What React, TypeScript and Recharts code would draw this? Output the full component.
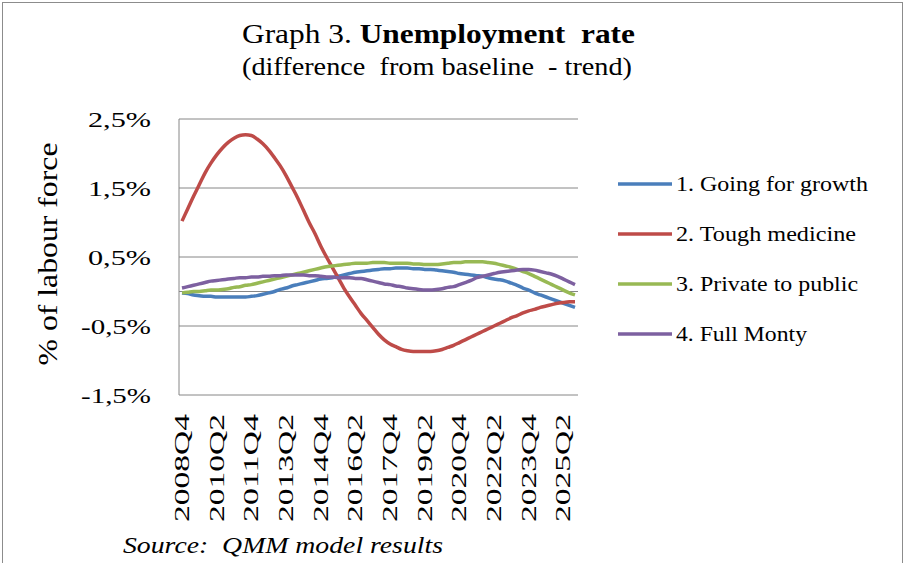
import React from 'react';
import { CartesianGrid, Legend, Line, LineChart, ReferenceLine, XAxis, YAxis } from 'recharts';

const quarters = [
  '2008Q4',
  '2009Q1', '2009Q2', '2009Q3', '2009Q4',
  '2010Q1', '2010Q2', '2010Q3', '2010Q4',
  '2011Q1', '2011Q2', '2011Q3', '2011Q4',
  '2012Q1', '2012Q2', '2012Q3', '2012Q4',
  '2013Q1', '2013Q2', '2013Q3', '2013Q4',
  '2014Q1', '2014Q2', '2014Q3', '2014Q4',
  '2015Q1', '2015Q2', '2015Q3', '2015Q4',
  '2016Q1', '2016Q2', '2016Q3', '2016Q4',
  '2017Q1', '2017Q2', '2017Q3', '2017Q4',
  '2018Q1', '2018Q2', '2018Q3', '2018Q4',
  '2019Q1', '2019Q2', '2019Q3', '2019Q4',
  '2020Q1', '2020Q2', '2020Q3', '2020Q4',
  '2021Q1', '2021Q2', '2021Q3', '2021Q4',
  '2022Q1', '2022Q2', '2022Q3', '2022Q4',
  '2023Q1', '2023Q2', '2023Q3', '2023Q4',
  '2024Q1', '2024Q2', '2024Q3', '2024Q4',
  '2025Q1', '2025Q2', '2025Q3', '2025Q4',
];

// % of labour force, difference from baseline
const goingForGrowth = [
  -0.02, -0.03, -0.05, -0.06, -0.07, -0.07, -0.08, -0.08, -0.08, -0.08,
  -0.08, -0.08, -0.07, -0.06, -0.04, -0.02, 0.0, 0.03, 0.05, 0.08,
  0.1, 0.12, 0.14, 0.16, 0.18, 0.19, 0.2, 0.22, 0.24, 0.26,
  0.28, 0.29, 0.3, 0.31, 0.32, 0.33, 0.33, 0.34, 0.34, 0.34,
  0.33, 0.33, 0.32, 0.32, 0.31, 0.3, 0.29, 0.28, 0.26, 0.25,
  0.24, 0.23, 0.22, 0.2, 0.18, 0.17, 0.15, 0.12, 0.09, 0.05,
  0.02, -0.02, -0.05, -0.08, -0.11, -0.14, -0.17, -0.2, -0.23,
];

const toughMedicine = [
  1.02, 1.2, 1.38, 1.55, 1.72, 1.86, 1.98, 2.08, 2.16, 2.22,
  2.26, 2.27, 2.26, 2.21, 2.14, 2.05, 1.94, 1.82, 1.68, 1.52,
  1.36, 1.18, 1.0, 0.84, 0.66, 0.5, 0.35, 0.2, 0.05, -0.08,
  -0.2, -0.32, -0.42, -0.52, -0.62, -0.7, -0.76, -0.8, -0.84, -0.86,
  -0.87, -0.87, -0.87, -0.87, -0.86, -0.84, -0.81, -0.78, -0.74, -0.7,
  -0.66, -0.62, -0.58, -0.54, -0.5, -0.46, -0.42, -0.38, -0.35, -0.31,
  -0.28, -0.26, -0.23, -0.21, -0.19, -0.17, -0.16, -0.15, -0.15,
];

const privateToPublic = [
  -0.02, -0.01, 0.0, 0.0, 0.01, 0.02, 0.02, 0.03, 0.04, 0.06,
  0.07, 0.09, 0.1, 0.12, 0.14, 0.16, 0.18, 0.2, 0.22, 0.24,
  0.26, 0.28, 0.3, 0.32, 0.34, 0.36, 0.37, 0.38, 0.39, 0.4,
  0.41, 0.41, 0.41, 0.42, 0.42, 0.42, 0.41, 0.41, 0.41, 0.41,
  0.4, 0.4, 0.39, 0.39, 0.39, 0.4, 0.41, 0.42, 0.42, 0.43,
  0.43, 0.43, 0.43, 0.42, 0.41, 0.39, 0.37, 0.35, 0.32, 0.29,
  0.26, 0.22, 0.18, 0.14, 0.1, 0.06, 0.02, -0.02, -0.05,
];

const fullMonty = [
  0.05, 0.07, 0.09, 0.11, 0.13, 0.15, 0.16, 0.17, 0.18, 0.19,
  0.2, 0.2, 0.21, 0.21, 0.22, 0.22, 0.23, 0.23, 0.24, 0.24,
  0.24, 0.24, 0.23, 0.23, 0.22, 0.21, 0.21, 0.2, 0.2, 0.2,
  0.19, 0.19, 0.17, 0.15, 0.13, 0.11, 0.1, 0.08, 0.07, 0.05,
  0.04, 0.03, 0.02, 0.02, 0.03, 0.04, 0.06, 0.07, 0.1, 0.13,
  0.16, 0.2, 0.22, 0.24, 0.26, 0.28, 0.29, 0.3, 0.31, 0.32,
  0.32, 0.31, 0.29, 0.27, 0.25, 0.22, 0.18, 0.14, 0.1,
];

const yTicks = [-1.5, -0.5, 0.5, 1.5, 2.5];

const series = [
  { key: 'growth', name: '1. Going for growth', color: '#4A7EBB' },
  { key: 'tough', name: '2. Tough medicine', color: '#BE4B48' },
  { key: 'private', name: '3. Private to public', color: '#98B954' },
  { key: 'monty', name: '4. Full Monty', color: '#7D60A0' },
];

const data = quarters.map((q, i) => ({
  q,
  growth: goingForGrowth[i],
  tough: toughMedicine[i],
  private: privateToPublic[i],
  monty: fullMonty[i],
}));

const FONT = '"Times New Roman", "Liberation Serif", serif';
const W = 911;
const H = 563;

// legend label widths, the serif here runs wide
const legendTextLength = [192, 180, 182, 131];

const fmtPct = (v: number) => `${v.toFixed(1).replace('.', ',')}%`;

const YTick = (props: any) => {
  const { x, y, payload } = props;
  const label = fmtPct(payload.value);
  return (
    <text
      x={x - 20}
      y={y + 8}
      textAnchor="end"
      fontFamily={FONT}
      fontSize={21}
      fill="#000"
      textLength={label.length > 4 ? 70 : 63}
      lengthAdjust="spacingAndGlyphs"
    >
      {label}
    </text>
  );
};

const XTick = (props: any) => {
  const { x, payload } = props;
  return (
    <g transform={`translate(${x + 7},414) rotate(-90)`}>
      <text
        x={0}
        y={0}
        textAnchor="end"
        fontFamily={FONT}
        fontSize={21}
        fill="#000"
        textLength={108}
        lengthAdjust="spacingAndGlyphs"
      >
        {payload.value}
      </text>
    </g>
  );
};

const LegendBox = () => (
  <svg width={280} height={200}>
    {series.map((s, i) => {
      const cy = 24 + i * 50;
      return (
        <g key={s.key}>
          <line x1={8} x2={62} y1={cy} y2={cy} stroke={s.color} strokeWidth={3.5} />
          <text
            x={66}
            y={cy + 7}
            fontFamily={FONT}
            fontSize={22}
            fill="#000"
            textLength={legendTextLength[i]}
            lengthAdjust="spacingAndGlyphs"
          >
            {s.name}
          </text>
        </g>
      );
    })}
  </svg>
);

export default function App() {
  return (
    <div style={{ position: 'absolute', left: 0, top: 0, width: W, height: H, background: '#fff' }}>
      <LineChart
        width={W}
        height={H}
        data={data}
        margin={{ top: 119, right: 333, bottom: 0, left: 0 }}
      >
        <CartesianGrid vertical={false} stroke="#868686" strokeWidth={1} />
        <XAxis
          dataKey="q"
          interval={5}
          height={168}
          padding={{ left: 3, right: 3 }}
          axisLine={false}
          tickLine={false}
          tick={<XTick />}
        />
        <YAxis
          width={179}
          domain={[-1.5, 2.5]}
          ticks={yTicks}
          interval={0}
          axisLine={{ stroke: '#868686' }}
          tickLine={false}
          tick={<YTick />}
        />
        <ReferenceLine y={0} stroke="#868686" strokeWidth={1} />
        {series.map((s) => (
          <Line
            key={s.key}
            dataKey={s.key}
            name={s.name}
            type="monotone"
            stroke={s.color}
            strokeWidth={3.5}
            dot={false}
            isAnimationActive={false}
          />
        ))}
        <Legend
          layout="horizontal"
          align="center"
          verticalAlign="middle"
          content={<LegendBox />}
          wrapperStyle={{ position: 'absolute', left: 610, top: 160, width: 280, height: 200 }}
        />
      </LineChart>
      <svg
        width={W}
        height={H}
        style={{ position: 'absolute', left: 0, top: 0, pointerEvents: 'none' }}
      >
        <rect x={2.5} y={2.5} width={900} height={640} fill="none" stroke="#8c8c8c" />
        <text
          x={242}
          y={43}
          fontFamily={FONT}
          fontSize={27}
          fill="#000"
          textLength={393}
          lengthAdjust="spacingAndGlyphs"
          style={{ whiteSpace: 'pre' }}
        >
          Graph 3. <tspan fontWeight="bold">{'Unemployment  rate'}</tspan>
        </text>
        <text
          x={242}
          y={75}
          fontFamily={FONT}
          fontSize={25}
          fill="#000"
          textLength={390}
          lengthAdjust="spacingAndGlyphs"
          style={{ whiteSpace: 'pre' }}
        >
          {'(difference  from baseline  - trend)'}
        </text>
        <g transform="translate(57,254) rotate(-90)">
          <text
            x={0}
            y={0}
            textAnchor="middle"
            fontFamily={FONT}
            fontSize={28}
            fill="#000"
            textLength={223}
            lengthAdjust="spacingAndGlyphs"
          >
            % of labour force
          </text>
        </g>
        <text
          x={123}
          y={553}
          fontFamily={FONT}
          fontStyle="italic"
          fontSize={24}
          fill="#000"
          textLength={320}
          lengthAdjust="spacingAndGlyphs"
          style={{ whiteSpace: 'pre' }}
        >
          {'Source:  QMM model results'}
        </text>
      </svg>
    </div>
  );
}
